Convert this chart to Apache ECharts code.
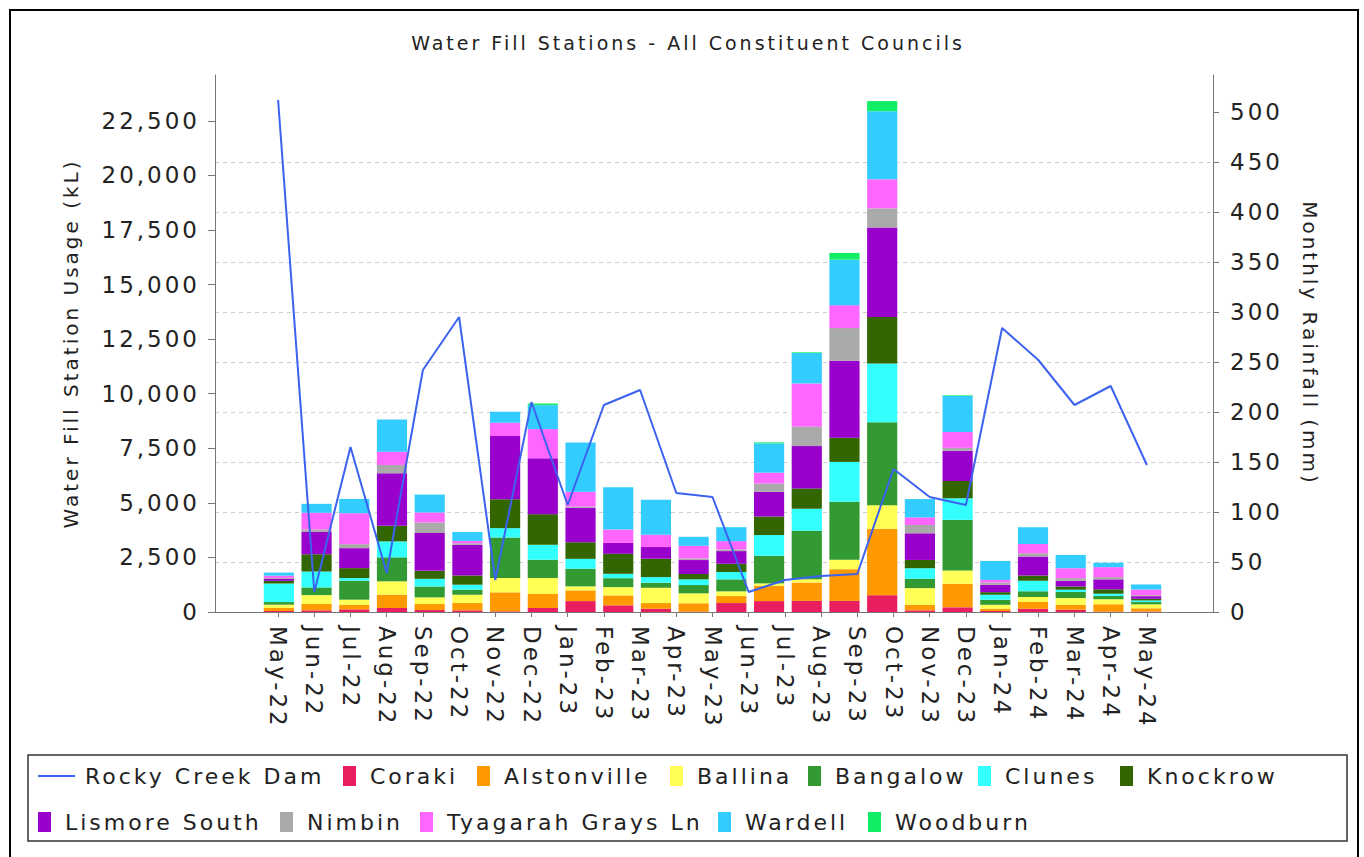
<!DOCTYPE html>
<html>
<head>
<meta charset="utf-8">
<title>Water Fill Stations - All Constituent Councils</title>
<script src="https://cdn.jsdelivr.net/npm/echarts@6/dist/echarts.min.js"></script>
<style>
  html, body { margin: 0; padding: 0; background: #fff; }
  #chart { width: 1364px; height: 857px; }
  /* the source chart is drawn with widely tracked text */
  #chart text { letter-spacing: 3px; }
</style>
</head>
<body>
<div id="chart"></div>
<script>
const months = ['May-22', 'Jun-22', 'Jul-22', 'Aug-22', 'Sep-22', 'Oct-22', 'Nov-22', 'Dec-22',
  'Jan-23', 'Feb-23', 'Mar-23', 'Apr-23', 'May-23', 'Jun-23', 'Jul-23', 'Aug-23', 'Sep-23',
  'Oct-23', 'Nov-23', 'Dec-23', 'Jan-24', 'Feb-24', 'Mar-24', 'Apr-24', 'May-24'];

// Rocky Creek Dam monthly rainfall (mm), one per month
const rainfall = [512, 20, 165, 39, 242, 295, 32, 210, 107, 207, 222, 119, 115,
  20, 32, 36, 38, 143, 115, 107, 284, 252, 207, 226, 147];

// the usage dataset only has 24 rows, spread over the same width as the 25 months
const usageSlots = months.slice(0, 24);

// kL per station, per usage row
const coraki = [45, 75, 120, 185, 90, 75, 30, 185, 500, 305, 150, 20, 410, 500, 510, 510, 770, 75, 215, 45, 150, 105, 20, 20];
const alstonville = [140, 290, 215, 610, 275, 335, 870, 640, 490, 455, 260, 380, 320, 700, 840, 1450, 3045, 260, 1080, 105, 305, 230, 335, 150];
const ballina = [150, 410, 230, 610, 305, 380, 655, 730, 185, 380, 700, 455, 215, 110, 155, 430, 1080, 760, 610, 180, 230, 305, 230, 180];
const bangalow = [120, 350, 870, 1100, 500, 230, 1860, 840, 805, 410, 230, 380, 550, 1265, 2215, 2660, 3800, 425, 2315, 230, 260, 275, 150, 105];
const clunes = [850, 730, 120, 730, 350, 230, 425, 685, 455, 200, 260, 260, 335, 950, 1010, 1825, 2690, 485, 990, 230, 485, 105, 105, 75];
const knockrow = [120, 790, 455, 715, 365, 425, 1325, 1400, 760, 915, 840, 245, 380, 850, 930, 1110, 2130, 380, 790, 120, 245, 150, 200, 75];
const lismoreSouth = [90, 1035, 915, 2405, 1735, 1400, 2895, 2560, 1570, 500, 535, 640, 580, 1130, 1940, 3520, 4095, 1220, 1385, 335, 870, 260, 455, 120];
const nimbin = [45, 105, 185, 380, 485, 75, 0, 0, 60, 0, 0, 75, 75, 380, 885, 1500, 880, 380, 135, 105, 150, 120, 105, 45];
const tyagarah = [105, 760, 1415, 610, 455, 105, 610, 1340, 685, 610, 565, 580, 380, 500, 1985, 1050, 1330, 350, 730, 120, 425, 455, 455, 260];
const wardell = [140, 410, 655, 1475, 820, 410, 505, 1095, 2255, 1935, 1600, 410, 640, 1340, 1395, 2085, 3120, 840, 1645, 870, 760, 610, 200, 230];
const woodburn = [0, 0, 0, 0, 0, 0, 0, 75, 0, 0, 0, 0, 0, 45, 30, 310, 465, 0, 30, 0, 0, 0, 0, 0];

// tick labels
const usageTicks = [0, 2500, 5000, 7500, 10000, 12500, 15000, 17500, 20000, 22500];
const rainTicks = [0, 50, 100, 150, 200, 250, 300, 350, 400, 450, 500];

const stations = [
  ['Coraki', coraki], ['Alstonville', alstonville], ['Ballina', ballina],
  ['Bangalow', bangalow], ['Clunes', clunes], ['Knockrow', knockrow],
  ['Lismore South', lismoreSouth], ['Nimbin', nimbin], ['Tyagarah Grays Ln', tyagarah],
  ['Wardell', wardell], ['Woodburn', woodburn]
];

const colors = {
  'Rocky Creek Dam': '#3c62f0',
  'Coraki': '#e91e5f',
  'Alstonville': '#ff9900',
  'Ballina': '#ffff55',
  'Bangalow': '#339933',
  'Clunes': '#33ffff',
  'Knockrow': '#336600',
  'Lismore South': '#9900cc',
  'Nimbin': '#aaaaaa',
  'Tyagarah Grays Ln': '#ff66ff',
  'Wardell': '#33ccff',
  'Woodburn': '#11ee66'
};

const font = "'DejaVu Sans', sans-serif";
const textColor = '#222';
const axisColor = '#777';

const chart = echarts.init(document.getElementById('chart'), null, { renderer: 'svg' });

// one legend per entry so each sits where the original put it: [name, left, top]
const legendSpots = [
  ['Rocky Creek Dam', 38, 765], ['Coraki', 343, 765], ['Alstonville', 477, 765],
  ['Ballina', 670, 765], ['Bangalow', 808, 765], ['Clunes', 978, 765], ['Knockrow', 1120, 765],
  ['Lismore South', 38, 811], ['Nimbin', 280, 811], ['Tyagarah Grays Ln', 420, 811],
  ['Wardell', 718, 811], ['Woodburn', 868, 811]
];

const legends = legendSpots.map(([name, left, top]) => {
  const isLine = name === 'Rocky Creek Dam';
  return {
    left, top,
    orient: 'horizontal',
    padding: 0,
    itemWidth: isLine ? 37 : 13,
    itemHeight: 20,
    // plain stroke for the rainfall entry, no marker dot
    icon: isLine ? 'path://M0 0H37V2H0Z' : 'rect',
    textStyle: {
      fontSize: 22, color: textColor, fontFamily: font,
      padding: [0, 0, 0, isLine ? 5 : 9]
    },
    data: [name]
  };
});

const barSeries = stations.map(([name, values]) => ({
  name,
  type: 'bar',
  stack: 'usage',
  xAxisIndex: 2,
  yAxisIndex: 2,
  barCategoryGap: '20%',
  itemStyle: { color: colors[name] },
  emphasis: { disabled: true },
  data: values
}));

const option = {
  animation: false,
  backgroundColor: '#fff',
  title: {
    text: 'Water Fill Stations - All Constituent Councils',
    left: 683,
    top: 28,
    textAlign: 'center',
    textStyle: { fontSize: 19, fontWeight: 'normal', color: textColor, fontFamily: font }
  },
  legend: legends,
  grid: [
    // plot frame holding both value axes
    { left: 215, right: 151, top: 75, bottom: 245, outerBoundsMode: 'none' },
    // category band, inset like the original's axis margins
    { left: 260, right: 199, top: 75, bottom: 245, outerBoundsMode: 'none' }
  ],
  xAxis: [
    {
      type: 'value', gridIndex: 0, min: 0, max: 1,
      axisLine: { show: true, lineStyle: { color: axisColor } },
      axisTick: { show: false }, axisLabel: { show: false }, splitLine: { show: false }
    },
    {
      type: 'category', gridIndex: 1, data: months,
      axisLine: { show: false },
      axisTick: { show: true, alignWithLabel: true, interval: 0, length: 5, lineStyle: { color: axisColor } },
      axisLabel: { interval: 0, rotate: -90, margin: 14, fontSize: 23, color: textColor, fontFamily: font }
    },
    { type: 'category', gridIndex: 1, data: usageSlots, show: false }
  ],
  yAxis: [
    {
      type: 'value', gridIndex: 0, position: 'left',
      min: 0, max: 24600, interval: 2500,
      name: 'Water Fill Station Usage (kL)', nameLocation: 'middle', nameGap: 134,
      nameTextStyle: { fontSize: 20, color: textColor, fontFamily: font },
      axisLine: { show: true, lineStyle: { color: axisColor } },
      axisTick: { show: true, length: 7, customValues: usageTicks, lineStyle: { color: axisColor } },
      axisLabel: {
        customValues: usageTicks, margin: 15, fontSize: 23, color: textColor, fontFamily: font,
        formatter: v => v.toLocaleString('en-US')
      },
      splitLine: { show: false }
    },
    {
      type: 'value', gridIndex: 0, position: 'right',
      min: 0, max: 537, interval: 50,
      name: 'Monthly Rainfall (mm)', nameLocation: 'middle', nameRotate: -90, nameGap: 87,
      nameTextStyle: { fontSize: 20, color: textColor, fontFamily: font },
      axisLine: { show: true, lineStyle: { color: axisColor } },
      axisTick: { show: true, length: 6, customValues: rainTicks, lineStyle: { color: axisColor } },
      axisLabel: { customValues: rainTicks, margin: 17, fontSize: 23, color: textColor, fontFamily: font },
      splitLine: { show: true, showMaxLine: false, lineStyle: { color: '#cccccc', type: [4, 4], width: 1 } }
    },
    { type: 'value', gridIndex: 1, min: 0, max: 24600, show: false },
    { type: 'value', gridIndex: 1, min: 0, max: 537, show: false }
  ],
  series: [
    {
      name: 'Rocky Creek Dam',
      type: 'line',
      xAxisIndex: 1,
      yAxisIndex: 3,
      symbol: 'none',
      z: 5,
      lineStyle: { color: colors['Rocky Creek Dam'], width: 2 },
      itemStyle: { color: colors['Rocky Creek Dam'] },
      emphasis: { disabled: true },
      data: rainfall
    }
  ].concat(barSeries),
  graphic: [
    {
      type: 'rect', silent: true,
      shape: { x: 10, y: 10, width: 1348, height: 880 },
      style: { fill: 'none', stroke: '#000', lineWidth: 2 }
    },
    {
      type: 'rect', silent: true,
      shape: { x: 28, y: 755, width: 1319, height: 86 },
      style: { fill: 'none', stroke: '#333', lineWidth: 1.5 }
    }
  ]
};

chart.setOption(option);
</script>
</body>
</html>
